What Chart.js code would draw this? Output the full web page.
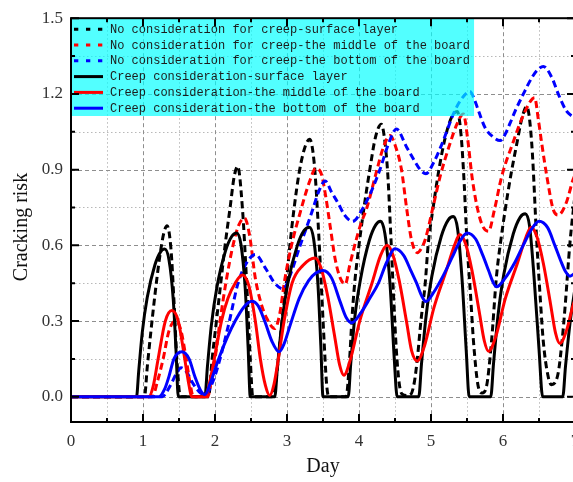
<!DOCTYPE html>
<html><head><meta charset="utf-8">
<script src="https://cdn.jsdelivr.net/npm/chart.js@4.4.1/dist/chart.umd.min.js"></script>
<style>html,body{margin:0;padding:0;overflow:hidden;background:#fff;} #wrap{width:590px;height:482px;}</style>
</head><body><div id="wrap"><canvas id="c" width="590" height="482"></canvas></div>
<script>
// ---------- data (day, cracking risk) ----------
const seriesNames = [
  'No consideration for creep-surface layer',
  'No consideration for creep-the middle of the board',
  'No consideration for creep-the bottom of the board',
  'Creep consideration-surface layer',
  'Creep consideration-the middle of the board',
  'Creep consideration-the bottom of the board'
];
const noCreepSurface = [[0,0],[1.02,0],[1.06,0.12],[1.11,0.26],[1.17,0.414],[1.23,0.55],[1.29,0.65],[1.335,0.678],[1.39,0.58],[1.43,0.38],[1.47,0.15],[1.52,0],
 [1.91,0],[1.96,0.15],[2.02,0.30],[2.08,0.45],[2.14,0.60],[2.21,0.75],[2.265,0.87],[2.315,0.913],[2.38,0.75],[2.44,0.45],[2.49,0.15],[2.525,0],
 [2.79,0],[2.83,0.03],[2.88,0.15],[2.93,0.30],[2.99,0.45],[3.04,0.60],[3.10,0.75],[3.17,0.89],[3.25,0.99],[3.315,1.02],[3.38,0.92],[3.43,0.70],[3.47,0.48],[3.51,0.25],[3.55,0.05],[3.58,0],
 [3.82,0],[3.87,0.15],[3.90,0.30],[3.94,0.45],[4.00,0.60],[4.07,0.75],[4.15,0.90],[4.23,1.03],[4.31,1.08],[4.36,1.01],[4.40,0.88],[4.44,0.65],[4.48,0.40],[4.52,0.18],[4.56,0.05],[4.60,0.01],[4.66,0.005],[4.72,0.01],[4.77,0.06],
 [4.81,0.15],[4.86,0.30],[4.92,0.45],[4.96,0.60],[5.03,0.75],[5.11,0.90],[5.20,1.03],[5.29,1.11],[5.365,1.13],[5.42,1.03],[5.46,0.85],[5.50,0.61],[5.55,0.40],[5.59,0.22],[5.65,0.05],[5.71,0.015],[5.77,0.04],
 [5.84,0.218],[5.91,0.479],[5.97,0.62],[6.03,0.74],[6.11,0.88],[6.19,1.0],[6.26,1.10],[6.33,1.15],[6.40,1.0],[6.47,0.61],[6.52,0.38],[6.56,0.218],[6.62,0.09],[6.67,0.048],[6.72,0.055],[6.77,0.1],
 [6.82,0.22],[6.86,0.348],[6.93,0.61],[7.0,0.8]];
const noCreepMiddle = [[0,0],[1.13,0],[1.20,0.06],[1.28,0.15],[1.36,0.26],[1.45,0.30],[1.52,0.27],[1.60,0.15],[1.65,0.06],[1.70,0],
 [1.90,0],[1.95,0.07],[2.00,0.15],[2.07,0.30],[2.15,0.45],[2.25,0.60],[2.33,0.68],[2.41,0.708],[2.48,0.64],[2.56,0.47],[2.64,0.37],[2.72,0.31],[2.83,0.27],
 [2.90,0.33],[2.97,0.466],[3.06,0.597],[3.18,0.727],[3.32,0.858],[3.40,0.905],[3.48,0.88],[3.54,0.79],[3.60,0.675],[3.67,0.544],[3.74,0.47],[3.81,0.446],
 [3.87,0.52],[3.94,0.60],[4.02,0.68],[4.11,0.75],[4.25,0.90],[4.34,0.99],[4.43,1.035],[4.51,0.99],[4.59,0.90],[4.66,0.75],[4.73,0.62],[4.81,0.571],
 [4.87,0.59],[4.92,0.623],[5.03,0.754],[5.125,0.871],[5.26,1.0],[5.36,1.08],[5.45,1.12],[5.51,1.02],[5.57,0.871],[5.65,0.74],[5.72,0.675],[5.80,0.656],
 [5.88,0.74],[5.98,0.871],[6.13,1.0],[6.31,1.133],[6.44,1.185],[6.49,1.10],[6.54,1.0],[6.61,0.871],[6.70,0.74],[6.77,0.72],[6.88,0.77],[6.97,0.858],[7.0,0.88]];
const noCreepBottom = [[0,0],[1.27,0],[1.33,0.02],[1.39,0.05],[1.46,0.09],[1.53,0.115],[1.60,0.10],[1.70,0.05],[1.80,0.015],[1.87,0.01],
 [1.97,0.06],[2.07,0.15],[2.20,0.30],[2.32,0.45],[2.44,0.531],[2.56,0.564],[2.70,0.51],[2.83,0.45],[2.95,0.427],
 [3.04,0.479],[3.18,0.597],[3.34,0.727],[3.45,0.82],[3.53,0.855],[3.62,0.81],[3.71,0.767],[3.80,0.72],[3.91,0.695],
 [4.06,0.75],[4.18,0.82],[4.29,0.90],[4.42,1.01],[4.52,1.061],[4.66,0.99],[4.76,0.94],[4.85,0.90],[4.93,0.884],
 [5.04,0.93],[5.15,1.0],[5.33,1.133],[5.45,1.19],[5.54,1.21],[5.60,1.18],[5.66,1.133],[5.75,1.067],[5.86,1.03],[5.96,1.015],
 [6.03,1.04],[6.10,1.085],[6.17,1.133],[6.28,1.198],[6.40,1.264],[6.48,1.295],[6.56,1.309],[6.68,1.264],[6.77,1.198],[6.88,1.133],[6.97,1.11],[7.0,1.105]];
const creepSurface = [[0,0],[0.91,0],[0.94,0.10],[0.99,0.255],[1.058,0.392],[1.164,0.521],[1.242,0.573],[1.30,0.585],[1.36,0.544],[1.42,0.386],[1.46,0.176],[1.49,0],
 [1.86,0],[1.895,0.12],[1.95,0.285],[2.027,0.435],[2.146,0.578],[2.234,0.636],[2.30,0.649],[2.36,0.604],[2.42,0.428],[2.46,0.195],[2.49,0],
 [2.83,0],[2.868,0.12],[2.93,0.295],[3.012,0.45],[3.142,0.598],[3.238,0.659],[3.31,0.672],[3.37,0.625],[3.43,0.444],[3.47,0.202],[3.50,0],
 [3.85,0],[3.885,0.13],[3.94,0.31],[4.021,0.466],[4.143,0.619],[4.233,0.681],[4.30,0.695],[4.36,0.646],[4.43,0.45],[4.49,0.15],[4.53,0],
 [4.83,0],[4.868,0.13],[4.93,0.315],[5.012,0.478],[5.142,0.635],[5.238,0.70],[5.31,0.714],[5.37,0.664],[5.43,0.471],[5.49,0.18],[5.53,0],
 [5.83,0],[5.868,0.13],[5.93,0.32],[6.012,0.486],[6.142,0.645],[6.238,0.711],[6.31,0.725],[6.37,0.674],[6.43,0.479],[6.50,0.19],[6.55,0],
 [6.83,0],[6.868,0.12],[6.93,0.29],[7.0,0.43]];
const creepMiddle = [[0,0],[1.08,0],[1.14,0.04],[1.21,0.15],[1.31,0.30],[1.40,0.342],[1.49,0.30],[1.58,0.15],[1.63,0.06],[1.68,0],
 [1.87,0],[1.92,0.05],[1.99,0.15],[2.09,0.30],[2.18,0.39],[2.28,0.45],[2.38,0.482],[2.47,0.44],[2.56,0.30],[2.63,0.15],[2.70,0.045],[2.76,0.005],
 [2.82,0.05],[2.88,0.15],[2.96,0.30],[3.07,0.45],[3.22,0.52],[3.39,0.55],[3.47,0.513],[3.56,0.406],[3.66,0.243],[3.73,0.127],[3.79,0.085],
 [3.88,0.147],[4.01,0.30],[4.18,0.45],[4.30,0.56],[4.39,0.60],[4.47,0.563],[4.56,0.458],[4.66,0.298],[4.73,0.183],[4.81,0.142],
 [4.91,0.202],[5.04,0.352],[5.21,0.498],[5.33,0.603],[5.40,0.643],[5.48,0.606],[5.57,0.499],[5.67,0.337],[5.74,0.222],[5.80,0.18],
 [5.90,0.239],[6.03,0.387],[6.20,0.529],[6.32,0.633],[6.39,0.672],[6.47,0.635],[6.56,0.529],[6.66,0.368],[6.73,0.252],[6.79,0.211],
 [6.89,0.27],[6.97,0.36],[7.0,0.385]];
const creepBottom = [[0,0],[1.22,0],[1.30,0.03],[1.36,0.08],[1.43,0.15],[1.54,0.178],[1.64,0.15],[1.72,0.08],[1.80,0.025],[1.86,0.009],
 [1.93,0.05],[2.05,0.15],[2.17,0.235],[2.28,0.30],[2.40,0.355],[2.51,0.378],[2.60,0.36],[2.69,0.30],[2.79,0.22],[2.89,0.178],
 [2.96,0.21],[3.04,0.28],[3.17,0.39],[3.30,0.46],[3.40,0.49],[3.50,0.50],[3.62,0.47],[3.74,0.375],[3.82,0.315],[3.90,0.293],
 [4.02,0.33],[4.15,0.39],[4.27,0.45],[4.38,0.53],[4.50,0.586],[4.62,0.56],[4.72,0.50],[4.80,0.45],[4.87,0.40],[4.93,0.377],
 [5.04,0.415],[5.17,0.48],[5.29,0.55],[5.40,0.615],[5.50,0.649],[5.62,0.625],[5.72,0.56],[5.80,0.50],[5.86,0.455],[5.91,0.436],
 [6.03,0.47],[6.16,0.53],[6.28,0.60],[6.40,0.665],[6.50,0.695],[6.62,0.67],[6.72,0.60],[6.80,0.54],[6.87,0.495],[6.93,0.478],[7.0,0.49]];
const xTicks = [0,1,2,3,4,5,6,7];
const xMinor = [0.5,1.5,2.5,3.5,4.5,5.5,6.5];
const yTicks = [0,0.3,0.6,0.9,1.2,1.5];
const yMinor = [0.15,0.45,0.75,1.05,1.35];
const xTitle = 'Day';
const yTitle = 'Cracking risk';

// ---------- styling ----------
const seriesData = [noCreepSurface, noCreepMiddle, noCreepBottom, creepSurface, creepMiddle, creepBottom];
const colors = ['#000000','#ff0000','#0000ff','#000000','#ff0000','#0000ff'];
const dashed = [true,true,true,false,false,false];
const SERIF = '"Liberation Serif","Times New Roman",serif';

const datasets = seriesData.map((d,i)=>({
  label: seriesNames[i],
  data: d.map(p=>({x:p[0], y:p[1]})),
  borderColor: colors[i],
  backgroundColor: colors[i],
  borderWidth: 3,
  borderDash: dashed[i] ? [7,4] : [],
  pointRadius: 0,
  cubicInterpolationMode: 'monotone',
  fill: false,
  order: 6 - i
}));

const gridPlugin = {
  id: 'gridPlugin',
  beforeDatasetsDraw(chart){
    const {ctx, chartArea:a, scales:{x,y}} = chart;
    ctx.save();
    ctx.lineWidth = 1;
    const vline = (v, col, dash) => { const px = Math.round(x.getPixelForValue(v))+0.5; ctx.strokeStyle=col; ctx.setLineDash(dash); ctx.beginPath(); ctx.moveTo(px,a.top); ctx.lineTo(px,a.bottom); ctx.stroke(); };
    const hline = (v, col, dash) => { const py = Math.round(y.getPixelForValue(v))+0.5; ctx.strokeStyle=col; ctx.setLineDash(dash); ctx.beginPath(); ctx.moveTo(a.left,py); ctx.lineTo(a.right,py); ctx.stroke(); };
    xMinor.forEach(v=>vline(v,'#b8b8b8',[1.5,2.5]));
    yMinor.forEach(v=>hline(v,'#b8b8b8',[1.5,2.5]));
    xTicks.forEach(v=>{ if(v>0 && v<7) vline(v,'#8e8e8e',[4,3]); });
    yTicks.forEach(v=>{ if(v<1.5) hline(v,'#8e8e8e',[4,3]); });
    ctx.restore();
  }
};

const legendPlugin = {
  id: 'insideLegend',
  afterDatasetsDraw(chart){
    const {ctx, chartArea:a} = chart;
    ctx.save();
    ctx.font = '12px "Liberation Mono", "DejaVu Sans Mono", monospace';
    const textX = a.left + 39;
    let maxW = 0;
    seriesNames.forEach(t=>{ maxW = Math.max(maxW, ctx.measureText(t).width); });
    const rowH = 15.8;
    const boxH = rowH*6 + 3;
    ctx.fillStyle = 'rgba(0,255,255,0.68)';
    ctx.fillRect(a.left, a.top, textX + maxW + 4 - a.left, boxH);
    seriesNames.forEach((t,i)=>{
      const cy = a.top + 11 + i*rowH;
      ctx.strokeStyle = colors[i];
      ctx.lineWidth = 3;
      ctx.setLineDash(dashed[i] ? [4.3,7.7] : []);
      ctx.beginPath(); ctx.moveTo(a.left+3, cy); ctx.lineTo(a.left+32, cy); ctx.stroke();
      ctx.setLineDash([]);
      ctx.fillStyle = '#1c1c1c';
      ctx.textBaseline = 'middle';
      ctx.textAlign = 'left';
      ctx.fillText(t, textX, cy+0.5);
    });
    ctx.restore();
  }
};

const framePlugin = {
  id: 'framePlugin',
  afterDraw(chart){
    const {ctx, chartArea:a, scales:{x,y}} = chart;
    ctx.save();
    ctx.strokeStyle = '#000';
    ctx.lineWidth = 2;
    ctx.setLineDash([]);
    ctx.strokeRect(a.left, a.top, a.right-a.left, a.bottom-a.top);
    ctx.beginPath();
    const tickX = (v,len)=>{ const px = x.getPixelForValue(v); ctx.moveTo(px,a.bottom); ctx.lineTo(px,a.bottom-len); ctx.moveTo(px,a.top); ctx.lineTo(px,a.top+len); };
    const tickY = (v,len)=>{ const py = y.getPixelForValue(v); ctx.moveTo(a.left,py); ctx.lineTo(a.left+len,py); ctx.moveTo(a.right,py); ctx.lineTo(a.right-len,py); };
    xTicks.forEach(v=>tickX(v,8)); xMinor.forEach(v=>tickX(v,4));
    yTicks.forEach(v=>tickY(v,8)); yMinor.forEach(v=>tickY(v,4));
    ctx.stroke();
    // axis titles
    ctx.fillStyle = '#111';
    ctx.font = '20px ' + SERIF;
    ctx.textAlign = 'center';
    ctx.textBaseline = 'middle';
    ctx.fillText(xTitle, (a.left+a.right)/2, 467);
    ctx.translate(22, 227);
    ctx.rotate(-Math.PI/2);
    ctx.fillText(yTitle, 0, 0);
    ctx.restore();
  }
};

new Chart(document.getElementById('c'), {
  type: 'line',
  data: { datasets },
  options: {
    responsive: false,
    animation: false,
    devicePixelRatio: 1,
    layout: { padding: { left: 0, top: 13, right: 15, bottom: 0 } },
    plugins: { legend: { display: false }, tooltip: { enabled: false } },
    scales: {
      x: {
        type: 'linear', min: 0, max: 7,
        afterBuildTicks: s => { s.ticks = xTicks.map(v=>({value:v})); },
        afterFit: s => { s.height = 60; },
        grid: { display: false, drawTicks: false },
        border: { display: false },
        ticks: { padding: 9, color: '#333', font: { family: SERIF, size: 17 }, maxRotation: 0, autoSkip: false, callback: v => String(v) }
      },
      y: {
        type: 'linear', min: -0.1, max: 1.5,
        afterBuildTicks: s => { s.ticks = yTicks.map(v=>({value:v})); },
        afterFit: s => { s.width = 71; },
        grid: { display: false, drawTicks: false },
        border: { display: false },
        ticks: { padding: 8, color: '#333', font: { family: SERIF, size: 17 }, autoSkip: false, callback: v => Number(v).toFixed(1) }
      }
    }
  },
  plugins: [gridPlugin, legendPlugin, framePlugin]
});
</script>
</body></html>
